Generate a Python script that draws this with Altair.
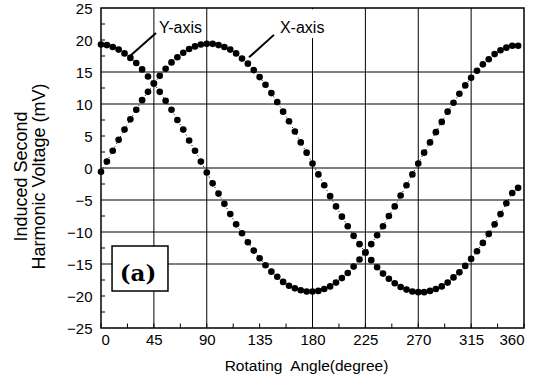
import altair as alt
import pandas as pd

# ---------------- data ----------------
angles = list(range(0, 360, 5))

# series labelled "X-axis" (sine-like)
x_axis_series = [
    -0.6, 1.0, 2.7, 4.4, 6.0, 7.6, 9.1, 10.6, 11.9, 13.2, 14.4, 15.5,
    16.5, 17.3, 18.0, 18.6, 19.0, 19.3, 19.4, 19.4, 19.2, 18.9, 18.5, 17.9,
    17.1, 16.3, 15.3, 14.2, 13.0, 11.7, 10.3, 8.8, 7.3, 5.7, 4.0, 2.4,
    0.7, -1.0, -2.7, -4.4, -6.0, -7.6, -9.1, -10.6, -11.9, -13.2, -14.4, -15.5,
    -16.5, -17.3, -18.0, -18.6, -19.0, -19.3, -19.4, -19.4, -19.2, -18.9, -18.5, -17.9,
    -17.1, -16.3, -15.3, -14.2, -13.0, -11.7, -10.3, -8.8, -7.2, -5.5, -3.9, -3.1,
]

# series labelled "Y-axis" (cosine-like)
y_axis_series = [
    19.3, 19.2, 18.9, 18.5, 17.9, 17.2, 16.4, 15.4, 14.3, 13.2, 11.9, 10.5,
    9.1, 7.5, 6.0, 4.3, 2.7, 1.0, -0.7, -2.4, -4.0, -5.6, -7.2, -8.8,
    -10.2, -11.6, -12.9, -14.1, -15.2, -16.2, -17.0, -17.8, -18.4, -18.8, -19.1, -19.3,
    -19.3, -19.2, -18.9, -18.5, -17.9, -17.2, -16.4, -15.4, -14.3, -13.2, -11.9, -10.5,
    -9.1, -7.5, -6.0, -4.3, -2.7, -1.0, 0.7, 2.4, 4.0, 5.6, 7.2, 8.8,
    10.2, 11.6, 12.9, 14.1, 15.2, 16.2, 17.0, 17.8, 18.4, 18.8, 19.1, 19.1,
]

x_ticks = [0, 45, 90, 135, 180, 225, 270, 315, 360]
y_ticks = [-25, -20, -15, -10, -5, 0, 5, 10, 15, 20, 25]
h_grid = [15, 10, 0, -5, -10, -15]
v_grid = [45, 90, 180, 225, 270, 315]
x_minor = [22.5, 67.5, 112.5, 157.5, 202.5, 247.5, 292.5, 337.5]
y_minor = [-22.5, -17.5, -12.5, -7.5, -2.5, 2.5, 7.5, 12.5, 17.5, 22.5, 20, 5, -20]

label_text = ["Y-axis", "X-axis"]
label_x = [49.4, 152.3]
label_y = [21.1, 21.1]

arrow_x = [46.8, 147.2]
arrow_y = [21.1, 20.8]
arrow_x2 = [24.7, 126.0]
arrow_y2 = [17.5, 17.3]

# ---------------- tables ----------------
pts = pd.DataFrame({
    "x": angles * 2,
    "y": x_axis_series + y_axis_series,
    "s": ["X-axis"] * len(angles) + ["Y-axis"] * len(angles),
})
hg = pd.DataFrame({"y": h_grid})
vg = pd.DataFrame({"x": v_grid})
xm = pd.DataFrame({"x": x_minor + x_ticks})
ym = pd.DataFrame({"y": y_minor})
labels = pd.DataFrame({"x": label_x, "y": label_y, "t": label_text})
arrows = pd.DataFrame({"x": arrow_x, "y": arrow_y, "x2": arrow_x2, "y2": arrow_y2})

FONT = "Liberation Sans"
xs = alt.Scale(domain=[0, 360], nice=False, zero=False)
ys = alt.Scale(domain=[-25, 25], nice=False, zero=False)

xa = alt.Axis(
    values=x_ticks, grid=False, ticks=False, domain=False, labelOverlap=False,
    labelFont=FONT, labelFontSize=15, labelColor="black", labelPadding=4,
    title="Rotating\u00a0 Angle(degree)", titleFont=FONT, titleFontSize=15.5,
    titleFontWeight="normal", titleColor="black",
    titleX=205, titleY=42, titleBaseline="alphabetic", titleAlign="center",
)
ya = alt.Axis(
    values=y_ticks, grid=False, ticks=False, domain=False, labelOverlap=False,
    labelFont=FONT, labelFontSize=15, labelColor="black", labelPadding=9,
    title=["Induced Second", "Harmonic Voltage (mV)"], titleFont=FONT,
    titleFontSize=18, titleFontWeight="normal", titleColor="black",
    titleX=-75, titleY=168, titleBaseline="alphabetic", titleAlign="center",
    titleLineHeight=18, titleAngle=270,
)


def X(f="x"):
    return alt.X(f, type="quantitative", scale=xs, axis=xa)


def Y(f="y"):
    return alt.Y(f, type="quantitative", scale=ys, axis=ya)


hgrid = alt.Chart(hg).mark_rule(color="black", strokeWidth=1).encode(y=Y())
vgrid = alt.Chart(vg).mark_rule(color="black", strokeWidth=1).encode(x=X())

xtick = alt.Chart(xm).mark_rule(color="black", strokeWidth=1).encode(
    x=X(), y=alt.datum(-25, scale=ys, axis=ya), y2=alt.datum(-24.3)
)
ytick = alt.Chart(ym).mark_rule(color="black", strokeWidth=1).encode(
    y=Y(), x=alt.datum(0, scale=xs, axis=xa), x2=alt.datum(3.5)
)

white_box = alt.Chart(pd.DataFrame({"a": [1]})).mark_rect(fill="white").encode(
    x=alt.datum(151, scale=xs, axis=xa), x2=alt.datum(193),
    y=alt.datum(20.3, scale=ys, axis=ya), y2=alt.datum(24.8),
)

conn = alt.Chart(pts).mark_line(color="black", strokeWidth=1, strokeDash=[1, 3]).encode(
    x=X(), y=Y(), detail="s:N"
)
dots = alt.Chart(pts).mark_circle(color="black", size=44, opacity=1).encode(
    x=X(), y=Y()
)

arrow_lines = alt.Chart(arrows).mark_rule(color="black", strokeWidth=2).encode(
    x=X(), y=Y(), x2="x2:Q", y2="y2:Q"
)
label_marks = alt.Chart(labels).mark_text(
    font=FONT, fontSize=16, align="left", baseline="alphabetic", color="black"
).encode(x=X(), y=Y(), text="t:N")

a_box = alt.Chart(pd.DataFrame({"a": [1]})).mark_rect(
    fill="white", stroke="black", strokeWidth=1.5
).encode(
    x=alt.datum(9.4, scale=xs, axis=xa), x2=alt.datum(57.0),
    y=alt.datum(-12.2, scale=ys, axis=ya), y2=alt.datum(-19.2),
)
a_text = alt.Chart(pd.DataFrame({"t": ["(a)"]})).mark_text(
    font="DejaVu Serif", fontWeight="bold", fontSize=23, align="center",
    baseline="alphabetic", color="black"
).encode(
    x=alt.datum(31.5, scale=xs, axis=xa),
    y=alt.datum(-17.7, scale=ys, axis=ya),
    text="t:N",
)

chart = alt.layer(
    hgrid, vgrid, xtick, ytick, white_box, conn, dots, arrow_lines, label_marks, a_box, a_text
).properties(
    width=423, height=320,
    autosize=alt.AutoSizeParams(type="none"),
    padding={"left": 101, "top": 8, "right": 22, "bottom": 50},
    background="white",
).configure_view(
    stroke="black", strokeWidth=1.5
).configure_axis(labelOverlap=False)

chart.save("out.html", embed_options={"renderer": "svg", "actions": False})
